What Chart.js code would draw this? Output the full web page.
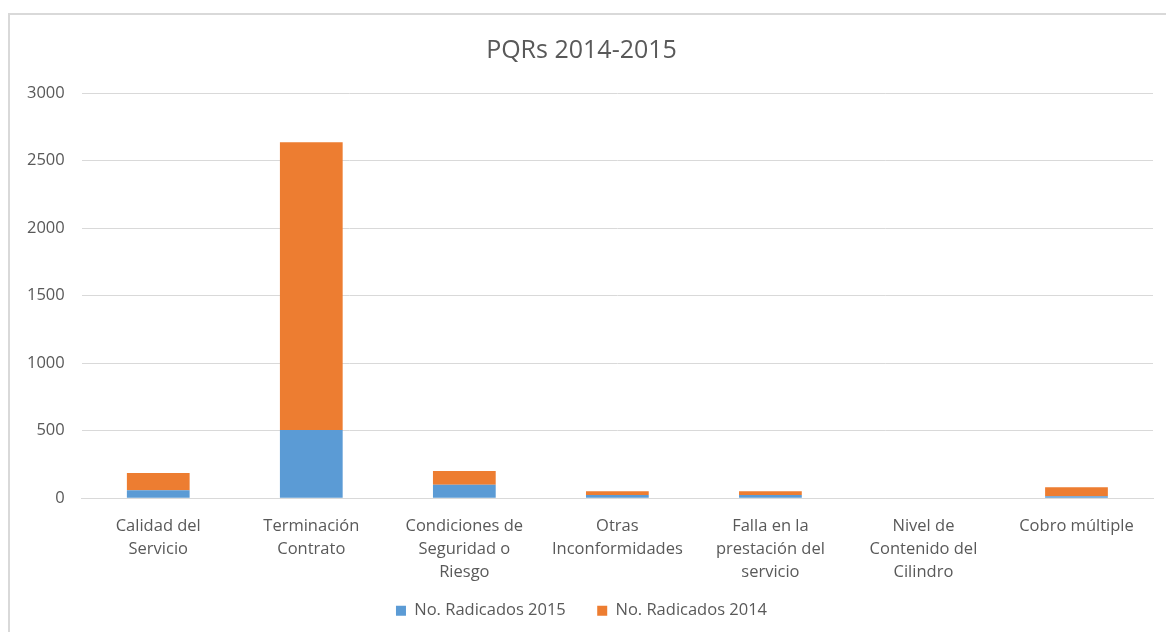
<!DOCTYPE html>
<html>
<head>
<meta charset="utf-8">
<script src="https://cdn.jsdelivr.net/npm/chart.js@4"></script>
<style>
body { margin: 0; background: #fff; overflow: hidden; }
#box { position: absolute; left: 8px; top: 13px; width: 1170px; height: 640px; border: 2px solid #d9d9d9; box-sizing: border-box; }
</style>
</head>
<body>
<div id="box"><canvas id="pqrChart"></canvas></div>
<script>
const categories = [
	["Calidad del", "Servicio"],
	["Terminación", "Contrato"],
	["Condiciones de", "Seguridad o", "Riesgo"],
	["Otras", "Inconformidades"],
	["Falla en la", "prestación del", "servicio"],
	["Nivel de", "Contenido del", "Cilindro"],
	["Cobro múltiple"]
];
const radicados2015 = [59, 505, 99, 24, 24, 0, 15];
const radicados2014 = [128, 2130, 103, 28, 28, 0, 66];
const yTicks = [0, 500, 1000, 1500, 2000, 2500, 3000];

const font = "'Open Sans', 'Noto Sans', sans-serif";
const grey = "#595959";

const ctx = document.getElementById("pqrChart").getContext("2d");
ctx.canvas.width = 1156;
ctx.canvas.height = 622;
new Chart(ctx, {
	type: "bar",
	data: {
		labels: categories,
		datasets: [
			{
				label: "No. Radicados 2015",
				data: radicados2015,
				backgroundColor: "#5b9bd5",
				categoryPercentage: 1,
				barPercentage: 0.41
			},
			{
				label: "No. Radicados 2014",
				data: radicados2014,
				backgroundColor: "#ed7d31",
				categoryPercentage: 1,
				barPercentage: 0.41
			}
		]
	},
	options: {
		responsive: false,
		animation: false,
		layout: { padding: { left: 0, right: 13, top: 6, bottom: 8 } },
		scales: {
			x: {
				stacked: true,
				grid: { display: false },
				border: { color: "#d9d9d9", width: 1 },
				ticks: { color: grey, font: { family: font, size: 16.5, lineHeight: 1.38 }, maxRotation: 0, padding: 9 }
			},
			y: {
				stacked: true,
				min: 0,
				max: 3000,
				afterBuildTicks: axis => { axis.ticks = yTicks.map(v => ({ value: v })); },
				grid: { color: "#d9d9d9", drawTicks: false },
				border: { display: false },
				ticks: { color: grey, font: { family: font, size: 16.5 }, padding: 17, callback: v => String(v) }
			}
		},
		plugins: {
			title: {
				display: true,
				text: "PQRs 2014-2015",
				color: grey,
				font: { family: font, size: 25, weight: "normal" },
				padding: { top: 15, bottom: 27 }
			},
			legend: {
				position: "bottom",
				labels: {
					color: grey,
					font: { family: font, size: 16.5 },
					boxWidth: 10,
					boxHeight: 10,
					padding: 10,
					// wider gap between the two items, like the original
					generateLabels: chart => Chart.defaults.plugins.legend.labels.generateLabels(chart)
						.map((item, i) => ({ ...item, text: i === 0 ? item.text + "     " : item.text }))
				}
			},
			tooltip: { enabled: false }
		}
	}
});
</script>
</body>
</html>
